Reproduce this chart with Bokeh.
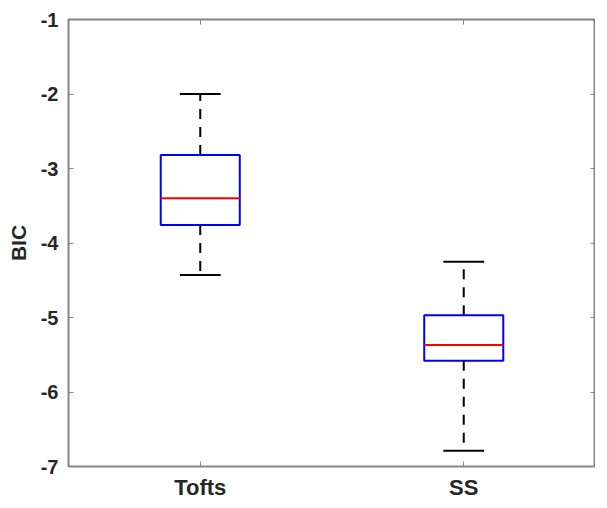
from bokeh.plotting import figure
from bokeh.models import Range1d, FixedTicker, LinearAxis, CustomJSTickFormatter
from bokeh.embed import file_html
from bokeh.resources import INLINE

categories = ["Tofts", "SS"]
positions = [1, 2]
whisker_low = [-4.43, -6.79]
q1 = [-3.76, -5.58]
median = [-3.40, -5.37]
q3 = [-2.82, -4.97]
whisker_high = [-2.00, -4.25]
y_ticks = [-7, -6, -5, -4, -3, -2, -1]
y_labels = ["-7", "-6", "-5", "-4", "-3", "-2", "-1"]

box_w = 0.30
cap_w = 0.155

AX = "#858585"
TXT = "#262626"
FONT = "Liberation Sans"

p = figure(frame_width=527, frame_height=447, output_backend="svg", toolbar_location=None,
           x_range=Range1d(0.5, 2.5), y_range=Range1d(-7, -1),
           min_border_left=68, min_border_right=0, min_border_top=19, min_border_bottom=38)
p.xgrid.visible = False
p.ygrid.visible = False
p.outline_line_color = AX
p.outline_line_width = 2
p.outline_line_alpha = 1.0

# whiskers (dashed)
p.segment(x0=positions, y0=q3, x1=positions, y1=whisker_high, line_color="black",
          line_width=2, line_dash="10 8")
p.segment(x0=positions, y0=q1, x1=positions, y1=whisker_low, line_color="black",
          line_width=2, line_dash="10 8")
# caps
p.segment(x0=[x - cap_w / 2 for x in positions], y0=whisker_high,
          x1=[x + cap_w / 2 for x in positions], y1=whisker_high, line_color="black", line_width=2)
p.segment(x0=[x - cap_w / 2 for x in positions], y0=whisker_low,
          x1=[x + cap_w / 2 for x in positions], y1=whisker_low, line_color="black", line_width=2)
# boxes
p.vbar(x=positions, width=box_w, bottom=q1, top=q3, fill_color="white",
       line_color="#0000FF", line_width=2)
# medians
p.segment(x0=[x - box_w / 2 for x in positions], y0=median,
          x1=[x + box_w / 2 for x in positions], y1=median, line_color="#FF0000", line_width=2)

def style(ax, labels=True, size="20px"):
    ax.axis_line_color = None
    ax.major_tick_line_color = AX
    ax.major_tick_line_width = 1
    ax.major_tick_in = 5
    ax.major_tick_out = 0
    ax.minor_tick_line_color = None
    if labels:
        ax.major_label_text_font = FONT
        ax.major_label_text_font_style = "bold"
        ax.major_label_text_font_size = size
        ax.major_label_text_color = TXT
    else:
        ax.formatter = CustomJSTickFormatter(code="return ''")
        ax.major_label_standoff = 0

p.xaxis.ticker = FixedTicker(ticks=positions)
p.xaxis.major_label_overrides = {pos: c for pos, c in zip(positions, categories)}
p.yaxis.ticker = FixedTicker(ticks=y_ticks)
p.yaxis.major_label_overrides = {t: s for t, s in zip(y_ticks, y_labels)}
style(p.xaxis[0], size="22px")
style(p.yaxis[0], size="20px")
p.xaxis.major_label_standoff = 8
p.yaxis.major_label_standoff = 10
p.yaxis.axis_label = "BIC"
p.yaxis.axis_label_text_font = FONT
p.yaxis.axis_label_text_font_style = "bold"
p.yaxis.axis_label_text_font_size = "21px"
p.yaxis.axis_label_text_color = TXT
p.yaxis.axis_label_standoff = 8

top_ax = LinearAxis(ticker=FixedTicker(ticks=positions))
right_ax = LinearAxis(ticker=FixedTicker(ticks=y_ticks))
style(top_ax, labels=False)
style(right_ax, labels=False)
p.add_layout(top_ax, "above")
p.add_layout(right_ax, "right")

open("out.html", "w").write(file_html(p, INLINE))
